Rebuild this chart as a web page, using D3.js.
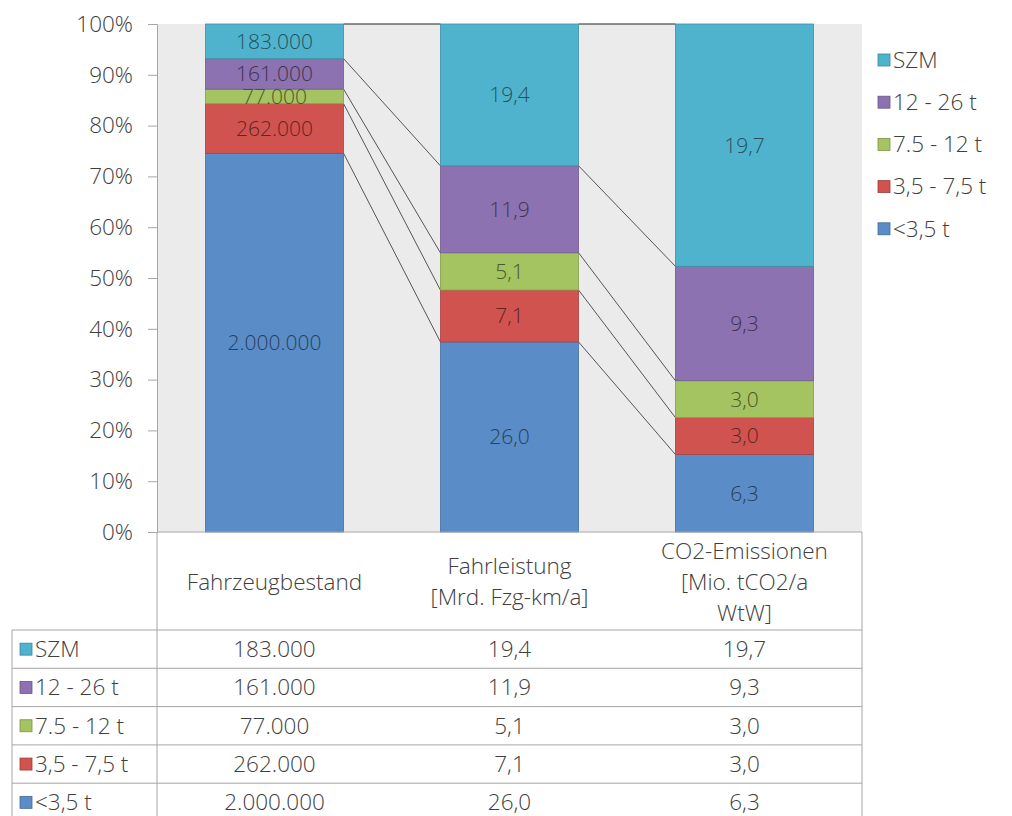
<!DOCTYPE html>
<html>
<head>
<meta charset="utf-8">
<script src="https://cdn.jsdelivr.net/npm/d3@7"></script>
<style>
  body { margin: 0; background: #fff; }
  text { font-family: "Open Sans", sans-serif; font-weight: 300; }
</style>
</head>
<body>
<div class="canvas"></div>
<script>
// Data
const categories = ['Fahrzeugbestand', 'Fahrleistung', 'CO2-Emissionen']
const categoryLines = [
  ['Fahrzeugbestand'],
  ['Fahrleistung', '[Mrd. Fzg-km/a]'],
  ['CO2-Emissionen', '[Mio. tCO2/a', 'WtW]']
]
const seriesNames = ['SZM', '12 - 26 t', '7.5 - 12 t', '3,5 - 7,5 t', '<3,5 t']
const seriesColors = ['#4fb3cd', '#8c72b0', '#a3c460', '#d1534f', '#5a8dc7']
const fahrzeugbestand = [183000, 161000, 77000, 262000, 2000000]
const fahrleistung = [19.4, 11.9, 5.1, 7.1, 26.0]
const co2Emissionen = [19.7, 9.3, 3.0, 3.0, 6.3]
const yTicks = [0, 0.1, 0.2, 0.3, 0.4, 0.5, 0.6, 0.7, 0.8, 0.9, 1]

const columns = [fahrzeugbestand, fahrleistung, co2Emissionen]

// German number formats
const de = d3.formatLocale({decimal: ',', thousands: '.', grouping: [3], currency: ['', ' €']})
const formats = [de.format(',.0f'), de.format(',.1f'), de.format(',.1f')]

const width = 1012
const height = 816
const plot = {left: 157, right: 862, top: 24, bottom: 532}
const headerBottom = 630
const rowH = 38.3
const tableLeft = 12
const textColor = '#404040'
const borderColor = '#a6a6a6'
const fs = 22.5

const svg = d3.select('.canvas')
  .append('svg')
    .attr('width', width)
    .attr('height', height)

// Build rows for stacking: one object per category
const table = categories.map((c, ci) => {
  const row = {category: c}
  seriesNames.forEach((s, si) => { row[s] = columns[ci][si] })
  return row
})

// bottom-to-top stacking order
const stackKeys = seriesNames.slice().reverse()
const stacked = d3.stack()
  .keys(stackKeys)
  .offset(d3.stackOffsetExpand)(table)

const color = d3.scaleOrdinal().domain(seriesNames).range(seriesColors)

const x = d3.scaleBand()
  .domain(categories)
  .range([plot.left, plot.right])
  .padding(0)
const barW = x.bandwidth() * 0.588
const barX = (c) => x(c) + (x.bandwidth() - barW) / 2

const y = d3.scaleLinear()
  .domain([0, 1])
  .range([plot.bottom, plot.top])

// Plot area background
svg.append('rect')
  .attr('x', plot.left)
  .attr('y', plot.top)
  .attr('width', plot.right - plot.left)
  .attr('height', plot.bottom - plot.top)
  .attr('fill', '#ebebeb')

// Series lines between bars (top edge of each segment)
const lineGroup = svg.append('g')
stacked.forEach((layer) => {
  for (let i = 0; i < layer.length - 1; i++) {
    lineGroup.append('line')
      .attr('x1', barX(categories[i]) + barW)
      .attr('y1', y(layer[i][1]))
      .attr('x2', barX(categories[i + 1]))
      .attr('y2', y(layer[i + 1][1]))
      .attr('stroke', layer.key === 'SZM' ? '#222' : '#555')
      .attr('stroke-width', 1)
  }
})

// Bars
const layers = svg.append('g')
  .selectAll('g')
  .data(stacked)
  .enter()
  .append('g')
    .attr('fill', (d) => color(d.key))
    .attr('stroke', (d) => d3.color(color(d.key)).darker(0.6))

layers.selectAll('rect')
  .data((d) => d)
  .enter()
  .append('rect')
    .attr('x', (d) => barX(d.data.category))
    .attr('y', (d) => y(d[1]))
    .attr('width', barW)
    .attr('height', (d) => y(d[0]) - y(d[1]))
    .attr('stroke-width', 0.8)

// Segment labels
stacked.forEach((layer) => {
  svg.append('g')
    .selectAll('text')
    .data(layer)
    .enter()
    .append('text')
      .attr('x', (d) => x(d.data.category) + x.bandwidth() / 2)
      .attr('y', (d) => y((d[0] + d[1]) / 2))
      .attr('dy', '0.35em')
      .attr('text-anchor', 'middle')
      .attr('font-size', 21)
      .attr('fill', d3.color(color(layer.key)).darker(2.2))
      .text((d) => formats[categories.indexOf(d.data.category)](d.data[layer.key]))
})

// Y axis
const yAxis = svg.append('g')
  .attr('transform', `translate(${plot.left},0)`)
  .call(d3.axisLeft(y).tickValues(yTicks).tickFormat(d3.format('.0%')).tickSize(9).tickPadding(15))
yAxis.select('.domain').attr('stroke', borderColor)
yAxis.selectAll('.tick line').attr('stroke', borderColor)
yAxis.selectAll('.tick text')
  .attr('font-size', fs)
  .attr('fill', textColor)
  .attr('font-family', '"Open Sans", sans-serif')

// Data table
const tbl = svg.append('g')
  .attr('stroke', borderColor)
  .attr('stroke-width', 1)
  .attr('fill', 'none')

const tableBottom = headerBottom + rowH * seriesNames.length
tbl.append('line').attr('x1', plot.left).attr('x2', plot.right).attr('y1', plot.bottom).attr('y2', plot.bottom)
tbl.append('line').attr('x1', plot.left).attr('x2', plot.left).attr('y1', plot.bottom).attr('y2', tableBottom)
tbl.append('line').attr('x1', plot.right).attr('x2', plot.right).attr('y1', plot.bottom).attr('y2', tableBottom)
tbl.append('line').attr('x1', tableLeft).attr('x2', tableLeft).attr('y1', headerBottom).attr('y2', tableBottom)
d3.range(seriesNames.length + 1).forEach((i) => {
  tbl.append('line')
    .attr('x1', tableLeft).attr('x2', plot.right)
    .attr('y1', headerBottom + i * rowH).attr('y2', headerBottom + i * rowH)
})

// header labels
categoryLines.forEach((lines, ci) => {
  const cx = x(categories[ci]) + x.bandwidth() / 2
  const cy = (plot.bottom + headerBottom) / 2 + 1
  const lh = 31
  const t = svg.append('text')
    .attr('text-anchor', 'middle')
    .attr('font-size', fs)
    .attr('fill', textColor)
  lines.forEach((l, li) => {
    t.append('tspan')
      .attr('x', cx)
      .attr('y', cy + (li - (lines.length - 1) / 2) * lh)
      .attr('dy', '0.35em')
      .text(l)
  })
})

// table rows
seriesNames.forEach((s, si) => {
  const cy = headerBottom + si * rowH + rowH / 2
  svg.append('rect')
    .attr('x', 20).attr('y', cy - 6)
    .attr('width', 12).attr('height', 12)
    .attr('fill', color(s))
    .attr('stroke', d3.color(color(s)).darker(0.8))
    .attr('stroke-width', 0.8)
  svg.append('text')
    .attr('x', 35).attr('y', cy).attr('dy', '0.35em')
    .attr('font-size', fs).attr('fill', textColor)
    .text(s)
  categories.forEach((c, ci) => {
    svg.append('text')
      .attr('x', x(c) + x.bandwidth() / 2).attr('y', cy).attr('dy', '0.35em')
      .attr('text-anchor', 'middle')
      .attr('font-size', fs).attr('fill', textColor)
      .text(formats[ci](columns[ci][si]))
  })
})

// Legend
const legend = svg.append('g')
  .selectAll('g')
  .data(seriesNames)
  .enter()
  .append('g')
    .attr('transform', (d, i) => `translate(878, ${60 + i * 42.2})`)

legend.append('rect')
  .attr('x', 0).attr('y', -6)
  .attr('width', 12).attr('height', 12)
  .attr('fill', (d) => color(d))
  .attr('stroke', (d) => d3.color(color(d)).darker(0.8))
  .attr('stroke-width', 0.8)

legend.append('text')
  .attr('x', 15).attr('dy', '0.35em')
  .attr('font-size', fs).attr('fill', textColor)
  .text((d) => d)
</script>
</body>
</html>
